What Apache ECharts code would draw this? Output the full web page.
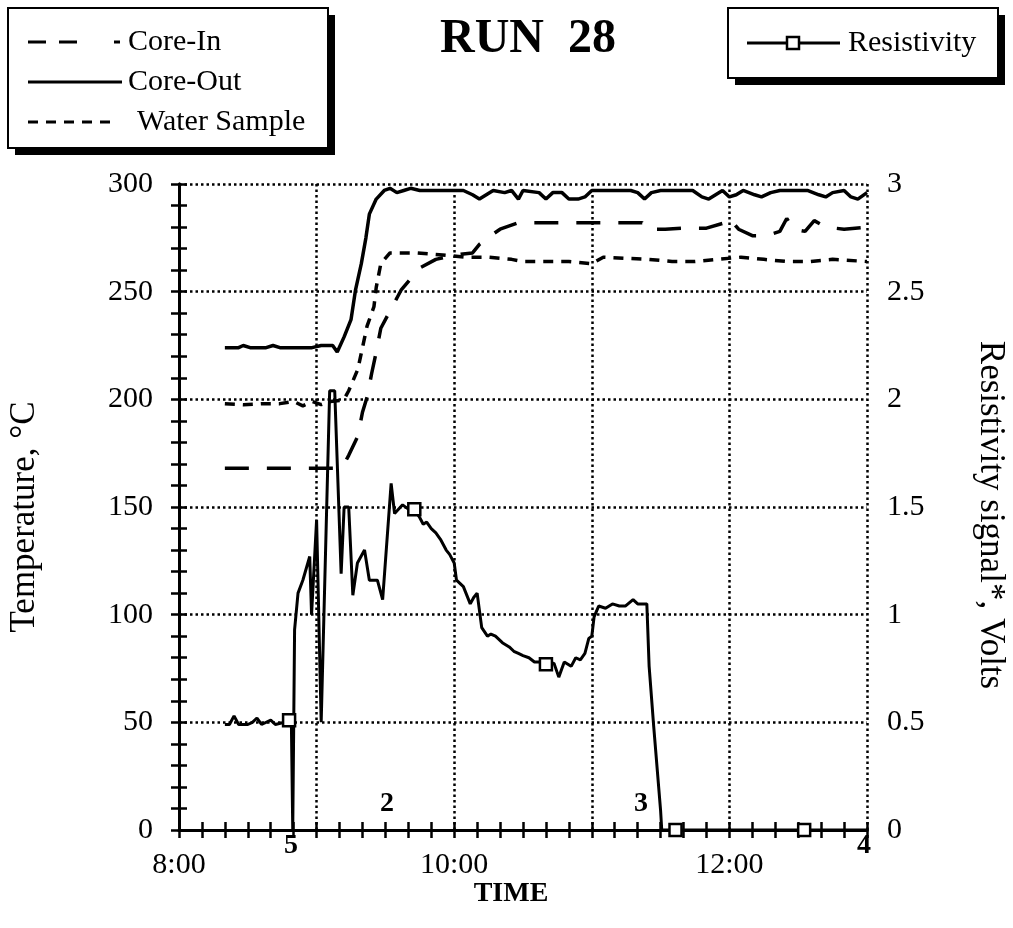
<!DOCTYPE html>
<html>
<head>
<meta charset="utf-8">
<title>RUN 28</title>
<script src="https://cdn.jsdelivr.net/npm/echarts@6/dist/echarts.min.js"></script>
<style>
	html, body { margin: 0; padding: 0; background: #fff; }
	#lineGraph { width: 1013px; height: 928px; }
</style>
</head>
<body>
<div id="lineGraph"></div>
<script>
	// time = minutes after 8:00, temperature in degC, resistivity in volts
	var coreIn = [[20,168],[70,168],[72,170],[74,174],[78,183],[80,194],[82,201],[84,212],[86,222],[88,233],[92,241],[97,251],[101,256],[105,261],[112,265],[120,267],[128,268],[131,272],[136,276],[140,279],[148,282],[160,282],[175,282],[192,282],[202,282],[204,279],[212,279],[220,279.5],[230,279.5],[238,282],[240,284],[244,279],[250,276],[256,276],[262,278],[265,284],[268,279],[273,278],[277,283],[282,280],[290,279],[300,280]];

	var coreOut = [[20,224],[26,224],[28,225],[31,224],[38,224],[41,225],[44,224],[52,224],[58,224],[62,225],[67,225],[69,222],[72,229],[75,237],[77,251],[79.5,263],[81.5,275],[83,286],[86,293],[89.5,297],[92,298],[95,296],[98,297],[101,298],[105,297],[112,297],[118,297],[124,297],[128,295],[131,293],[134,295],[137,297],[142,296],[145,297],[148,293],[150,297],[157,296],[160,293],[163,296],[167,296],[170,293],[174,293],[177,294],[180,297],[190,297],[197,297],[200,296],[203,293],[206,296],[210,297],[218,297],[224,297],[228,294],[231,293],[234,295],[237,297],[240,294],[243,295],[246,297],[251,295],[254,294],[258,296],[262,297],[268,297],[274,297],[279,295],[282,294],[285,296],[290,297],[293,294],[296,293],[300,296]];

	var waterSample = [[20,198],[28,197.5],[36,198],[44,198],[50,199],[54,197],[58,199],[62,197.5],[66,199],[70,199.5],[72,200],[74,204],[78,214],[80,224],[82,234],[85,243],[86,252],[88,263],[92,268],[104,268],[115,267],[125,266],[135,266],[145,265],[150,264],[160,264],[170,264],[180,263],[185,266],[195,265.5],[205,265],[215,264],[225,264],[235,265],[245,266],[255,265],[265,264],[275,264],[285,265],[300,264]];

	var resistivity = [[20,0.49],[22,0.49],[24,0.53],[26,0.49],[30,0.49],[32,0.5],[34,0.52],[36,0.49],[40,0.51],[42,0.49],[46,0.5],[48,0.51],[49,0.5],[49.6,0],[50.4,0.93],[51.9,1.1],[54,1.16],[57,1.27],[57.8,1.0],[60,1.44],[62,0.5],[65.7,2.04],[67.9,2.04],[70.7,1.19],[72,1.5],[74,1.5],[75.8,1.09],[77.8,1.24],[80.9,1.3],[83,1.16],[86.5,1.16],[88.8,1.07],[92.5,1.61],[94,1.47],[97.5,1.51],[100,1.49],[102.6,1.49],[105,1.45],[106.5,1.42],[108,1.43],[110,1.4],[112,1.38],[114,1.35],[116.5,1.3],[118,1.28],[120,1.24],[121,1.16],[124,1.13],[127,1.05],[128.5,1.08],[130,1.1],[132,0.94],[134.5,0.9],[136,0.91],[138,0.9],[141,0.87],[144,0.85],[146,0.83],[148,0.82],[150,0.81],[152.6,0.8],[155,0.78],[157,0.78],[160,0.77],[163.5,0.775],[165.6,0.71],[168,0.78],[171,0.76],[173,0.8],[175,0.79],[177,0.82],[178.7,0.89],[180,0.9],[181,0.99],[183,1.04],[186,1.03],[189,1.05],[192,1.04],[194.6,1.04],[198,1.07],[200,1.05],[202,1.05],[204,1.05],[205,0.76],[207,0.48],[210,0.09],[210.5,0],[216.5,0],[272.6,0],[300,0]];

	var resistivityMarkers = [[48,0.51],[102.6,1.49],[160,0.77],[216.5,0],[272.6,0]];

	var timeLabels = {0: '8:00', 120: '10:00', 240: '12:00'};

	var FONT = 'Liberation Serif';

	/**
	 * 绘图
	 */
	function drawGraph() {
		var dom = document.getElementById("lineGraph");
		var myChart = echarts.init(dom);
		var dotted = { color: '#000', width: 2.5, type: [2.5, 3] };
		var tickStyle = { color: '#000', width: 2.5 };
		var frameLine = { show: true, lineStyle: { color: '#000', width: 3 } };
		var ticksIn = { show: true, inside: true, length: 8, lineStyle: tickStyle };
		var hidden = { show: false };

		var option = {
			animation: false,
			backgroundColor: '#fff',
			grid: {
				left: 179,
				right: 146,
				top: 184,
				bottom: 98,
				outerBoundsMode: 'none'
			},
			xAxis: [{
				// bottom frame: a tick every 10 minutes
				type: 'value',
				min: 0,
				max: 300,
				interval: 10,
				position: 'bottom',
				name: 'TIME',
				nameLocation: 'middle',
				nameGap: 50,
				nameMoveOverlap: false,
				nameTextStyle: { color: '#000', fontFamily: FONT, fontSize: 28, fontWeight: 'bold', padding: [0, 24, 0, 0] },
				axisLine: frameLine,
				axisTick: ticksIn,
				axisLabel: {
					margin: 20,
					color: '#000', fontFamily: FONT, fontSize: 30,
					formatter: function (v) { return timeLabels[v] || ''; }
				},
				splitLine: hidden
			}, {
				// top frame
				type: 'value',
				min: 0,
				max: 300,
				interval: 10,
				position: 'top',
				axisLine: frameLine,
				axisTick: ticksIn,
				axisLabel: hidden,
				splitLine: hidden
			}, {
				// hourly grid
				type: 'value',
				min: 0,
				max: 300,
				interval: 60,
				position: 'bottom',
				axisLine: hidden,
				axisTick: hidden,
				axisLabel: hidden,
				splitLine: { show: true, lineStyle: dotted }
			}],
			yAxis: [{
				type: 'value',
				min: 0,
				max: 300,
				interval: 10,
				position: 'left',
				name: 'Temperature, °C',
				nameLocation: 'middle',
				nameGap: 137,
				nameTextStyle: { color: '#000', fontFamily: FONT, fontSize: 35, padding: [0, 20, 0, 0] },
				axisLine: frameLine,
				axisTick: ticksIn,
				axisLabel: {
					margin: 26, color: '#000', fontFamily: FONT, fontSize: 30,
					formatter: function (v) { return v % 50 === 0 ? String(v) : ''; }
				},
				splitLine: hidden
			}, {
				type: 'value',
				min: 0,
				max: 3,
				interval: 0.1,
				position: 'right',
				name: 'Resistivity signal*, Volts',
				nameLocation: 'middle',
				nameRotate: -90,
				nameGap: 106,
				nameTextStyle: { color: '#000', fontFamily: FONT, fontSize: 35, padding: [0, 0, 0, 16] },
				axisLine: frameLine,
				axisTick: ticksIn,
				axisLabel: {
					margin: 20, color: '#000', fontFamily: FONT, fontSize: 30,
					formatter: function (v) {
						var h = Math.round(v * 2);
						return Math.abs(v * 2 - h) < 1e-6 ? String(h / 2) : '';
					}
				},
				splitLine: hidden
			}, {
				// grid every 50 degC
				type: 'value',
				min: 0,
				max: 300,
				interval: 50,
				position: 'left',
				axisLine: hidden,
				axisTick: hidden,
				axisLabel: hidden,
				splitLine: { show: true, lineStyle: dotted }
			}],
			series: [{
				name: 'Core-In',
				type: 'line',
				data: coreIn,
				showSymbol: false,
				lineStyle: { color: '#000', width: 3.5, type: [24, 18] }
			}, {
				name: 'Core-Out',
				type: 'line',
				data: coreOut,
				showSymbol: false,
				lineStyle: { color: '#000', width: 3.5 }
			}, {
				name: 'Water Sample',
				type: 'line',
				data: waterSample,
				showSymbol: false,
				lineStyle: { color: '#000', width: 3.5, type: [10, 8] }
			}, {
				name: 'Resistivity',
				type: 'line',
				yAxisIndex: 1,
				data: resistivity,
				showSymbol: false,
				lineStyle: { color: '#000', width: 3 }
			}, {
				name: 'Resistivity markers',
				type: 'scatter',
				yAxisIndex: 1,
				data: resistivityMarkers,
				symbol: 'rect',
				symbolSize: 12,
				clip: false,
				z: 5,
				itemStyle: { color: '#fff', opacity: 1, borderColor: '#000', borderWidth: 2.5 }
			}],
			graphic: [
				// title
				{ type: 'text', left: 440, top: 16, style: { text: 'RUN  28', fill: '#000', font: 'bold 48px "Liberation Serif"' } },
				// left legend box
				{ type: 'rect', shape: { x: 15, y: 15, width: 320, height: 140 }, style: { fill: '#000' } },
				{ type: 'rect', shape: { x: 8, y: 8, width: 320, height: 140 }, style: { fill: '#fff', stroke: '#000', lineWidth: 2 } },
				{ type: 'line', shape: { x1: 28, y1: 42, x2: 122, y2: 42 }, style: { stroke: '#000', lineWidth: 3, lineDash: [18, 13, 18, 37, 6, 100] } },
				{ type: 'text', x: 128, y: 42, style: { text: 'Core-In', fill: '#000', font: '30px "Liberation Serif"', verticalAlign: 'middle' } },
				{ type: 'line', shape: { x1: 28, y1: 82, x2: 122, y2: 82 }, style: { stroke: '#000', lineWidth: 3 } },
				{ type: 'text', x: 128, y: 82, style: { text: 'Core-Out', fill: '#000', font: '30px "Liberation Serif"', verticalAlign: 'middle' } },
				{ type: 'line', shape: { x1: 28, y1: 122, x2: 112, y2: 122 }, style: { stroke: '#000', lineWidth: 3, lineDash: [10, 8] } },
				{ type: 'text', x: 137, y: 122, style: { text: 'Water Sample', fill: '#000', font: '30px "Liberation Serif"', verticalAlign: 'middle' } },
				// right legend box
				{ type: 'rect', shape: { x: 735, y: 15, width: 270, height: 70 }, style: { fill: '#000' } },
				{ type: 'rect', shape: { x: 728, y: 8, width: 270, height: 70 }, style: { fill: '#fff', stroke: '#000', lineWidth: 2 } },
				{ type: 'line', shape: { x1: 747, y1: 43, x2: 840, y2: 43 }, style: { stroke: '#000', lineWidth: 3 } },
				{ type: 'rect', shape: { x: 787, y: 37, width: 12, height: 12 }, style: { fill: '#fff', stroke: '#000', lineWidth: 2.5 } },
				{ type: 'text', x: 848, y: 43, style: { text: 'Resistivity', fill: '#000', font: '30px "Liberation Serif"', verticalAlign: 'middle' } },
				// point annotations
				{ type: 'text', x: 291, y: 846, style: { text: '5', fill: '#000', font: 'bold 28px "Liberation Serif"', align: 'center', verticalAlign: 'middle' } },
				{ type: 'text', x: 387, y: 804, style: { text: '2', fill: '#000', font: 'bold 28px "Liberation Serif"', align: 'center', verticalAlign: 'middle' } },
				{ type: 'text', x: 641, y: 804, style: { text: '3', fill: '#000', font: 'bold 28px "Liberation Serif"', align: 'center', verticalAlign: 'middle' } },
				{ type: 'text', x: 864, y: 846, style: { text: '4', fill: '#000', font: 'bold 28px "Liberation Serif"', align: 'center', verticalAlign: 'middle' } }
			]
		};

		if (option && typeof option === "object") {
			myChart.setOption(option, true);
		}
	}

	drawGraph();
</script>
</body>
</html>
